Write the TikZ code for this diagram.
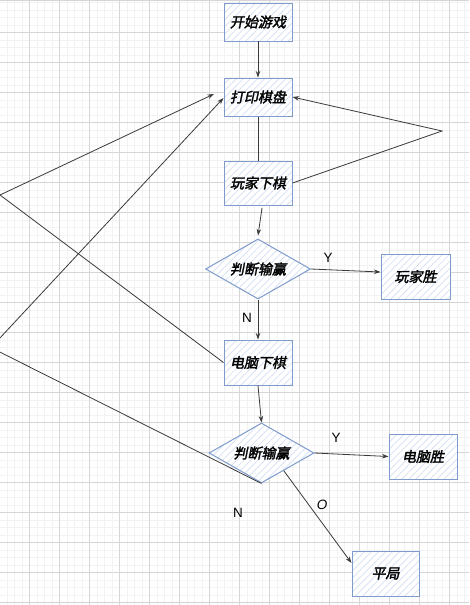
\documentclass[tikz,border=0pt]{standalone}
\usepackage{fontspec}
\setmainfont{Liberation Sans}
\newfontfamily\cjk[FakeSlant=0.2,FakeBold=2]{Noto Sans CJK SC}
\usetikzlibrary{shapes.geometric,arrows.meta,patterns.meta,calc}
\definecolor{boxline}{HTML}{7E9BCB}
\definecolor{hatch}{HTML}{D2E0F3}
\definecolor{minorg}{HTML}{F2F2F2}
\definecolor{majorg}{HTML}{D6D6D6}
\definecolor{edge}{HTML}{3A3A3A}
\tikzset{
 flowbox/.style={draw=boxline, line width=1pt, preaction={fill=white},
   pattern={Lines[angle=45,distance=5pt,line width=0.7pt]}, pattern color=hatch,
   font=\cjk\fontsize{14}{16}\selectfont, inner sep=0pt,
   minimum width=68pt, minimum height=45pt},
 decision/.style={flowbox, diamond, aspect=1.75, minimum width=105pt, minimum height=60pt},
 arr/.style={draw=edge, line width=0.8pt, -{Stealth[length=6.5pt,width=4.5pt,inset=2pt]}},
 ln/.style={draw=edge, line width=0.8pt},
 lbl/.style={font=\fontsize{13.5}{15}\selectfont, text=black, inner sep=0pt},
 minorline/.style={draw=minorg, line width=0.6pt},
 majorline/.style={draw=majorg, line width=0.8pt}
}
\begin{document}
\begin{tikzpicture}[x=1pt,y=-1pt]
\useasboundingbox (0,0) rectangle (469,605);
\clip (0,0) rectangle (469,605);
\fill[white] (0,0) rectangle (469,605);
% grid
\foreach \i in {0,...,63} {\draw[minorline] ({-0.7+7.5*\i},0) -- ({-0.7+7.5*\i},605);}
\foreach \j in {0,...,81} {\draw[minorline] (0,{2.3+7.5*\j}) -- (469,{2.3+7.5*\j});}
\foreach \i in {1,...,16} {\draw[majorline] ({-0.7+30*\i},0) -- ({-0.7+30*\i},605);}
\foreach \j in {1,...,20} {\draw[majorline] (0,{2.3+30*\j}) -- (469,{2.3+30*\j});}
\draw[draw=majorg, line width=1.5pt] (0,0.5) -- (469,0.5);

% nodes
\node[flowbox, minimum height=38pt] (start) at (258,22) {开始游戏};
\node[flowbox, minimum height=38pt] (print) at (258,97) {打印棋盘};
\node[flowbox, minimum height=44pt] (player) at (258,183) {玩家下棋};
\node[decision] (d1) at (258,269) {判断输赢};
\node[flowbox, minimum width=69pt] (pwin) at (415.5,276.5) {玩家胜};
\node[flowbox] (computer) at (258,362.5) {电脑下棋};
\node[decision] (d2) at (261.5,453) {判断输赢};
\node[flowbox] (cwin) at (423,456.5) {电脑胜};
\node[flowbox, minimum width=67pt] (tie) at (385.5,573.5) {平局};

% free ends
\coordinate (la) at (0,195);
\coordinate (lc) at (-9,347.6);
\coordinate (pa) at (214,94);
\coordinate (rp) at (442,131);
\coordinate (pbelow) at (262,208);
\coordinate (d2edge) at ($(d2.east)!0.58!(d2.south)$);

% connectors
\draw[arr] (start) -- (print);
\draw[ln] (print) -- (player);
\draw[arr] (pbelow) -- ([yshift=3pt]d1.north);
\draw[arr] (d1.east) -- ([yshift=4.5pt]pwin.west);
\draw[arr] (d1.south) -- (computer.north);
\draw[arr] (computer.south) -- (d2.north);
\draw[arr] (d2.east) -- (cwin.west);
\draw[arr] (d2edge) -- ([yshift=10.5pt]tie.west);
\draw[arr] (player.east) -- (rp) -- (print.east);
\draw[arr] (la) -- (pa);
\draw[ln] (la) -- (computer.west);
\draw[arr] (lc) -- ([yshift=-1pt]print.west);
\draw[ln] (lc) -- (d2.south);

% labels
\node[lbl] (y1) at (328,258) {Y};
\node[lbl] (n1) at (247,318) {N};
\node[lbl] (y2) at (336,438) {Y};
\node[lbl, font=\itshape\fontsize{13.5}{15}\selectfont] (o1) at (322,505) {O};
\node[lbl] (n2) at (238,513) {N};
\end{tikzpicture}
\end{document}
